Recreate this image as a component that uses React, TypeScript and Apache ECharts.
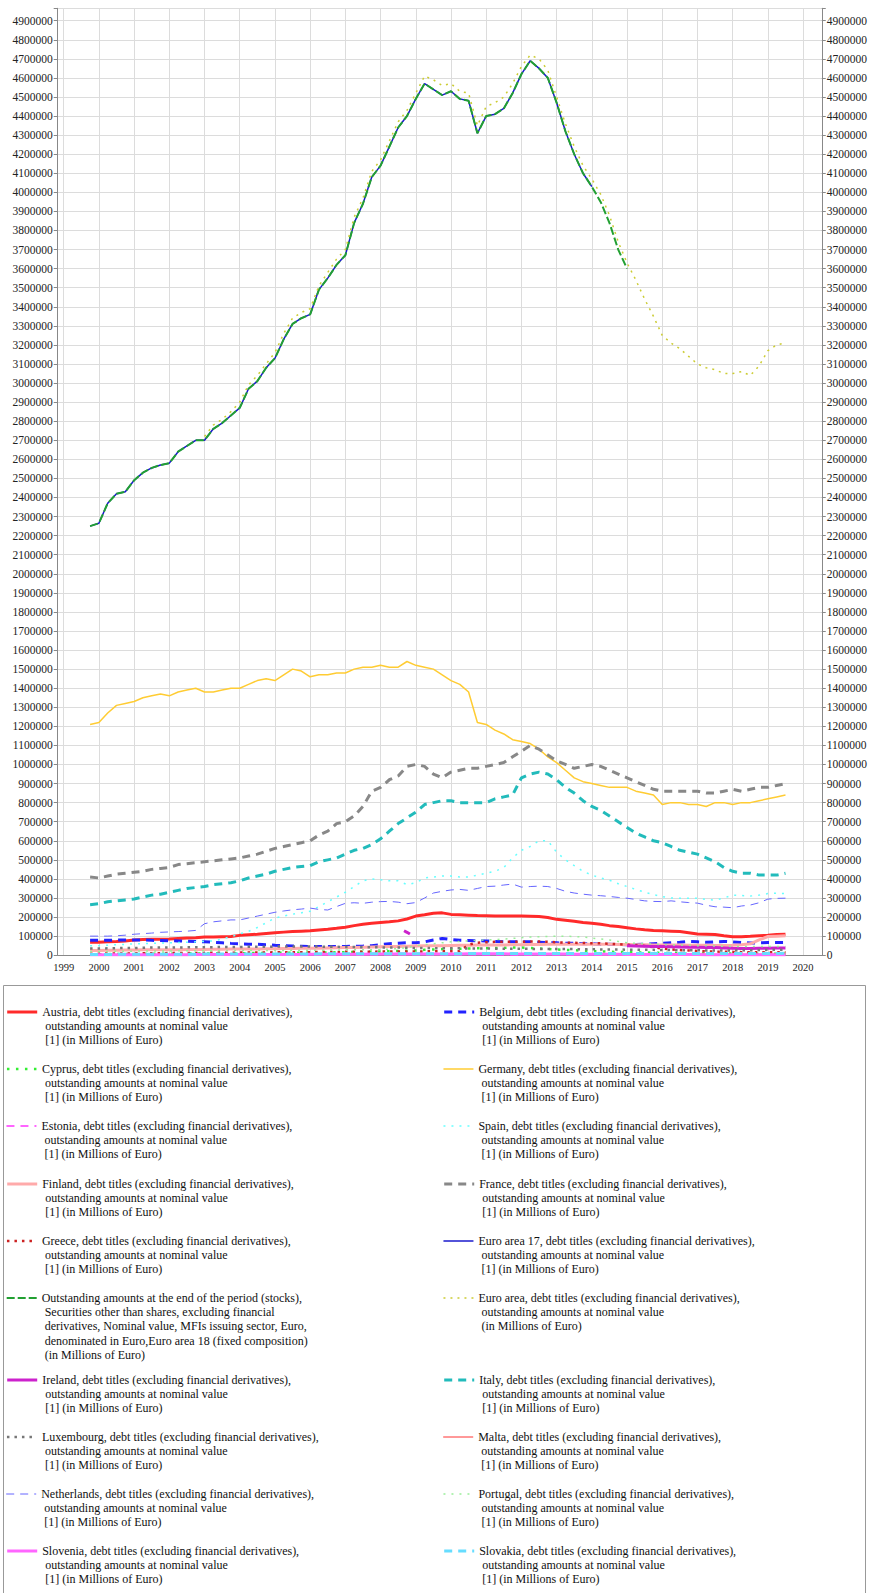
import React, { useEffect, useRef } from "react";
import * as echarts from "echarts";

// Quarterly observation dates (YYYY-MM)
const dates = [
  "1999-10",
  "2000-01", "2000-04", "2000-07", "2000-10",
  "2001-01", "2001-04", "2001-07", "2001-10",
  "2002-01", "2002-04", "2002-07", "2002-10",
  "2003-01", "2003-04", "2003-07", "2003-10",
  "2004-01", "2004-04", "2004-07", "2004-10",
  "2005-01", "2005-04", "2005-07", "2005-10",
  "2006-01", "2006-04", "2006-07", "2006-10",
  "2007-01", "2007-04", "2007-07", "2007-10",
  "2008-01", "2008-04", "2008-07", "2008-10",
  "2009-01", "2009-04", "2009-07", "2009-10",
  "2010-01", "2010-04", "2010-07", "2010-10",
  "2011-01", "2011-04", "2011-07", "2011-10",
  "2012-01", "2012-04", "2012-07", "2012-10",
  "2013-01", "2013-04", "2013-07", "2013-10",
  "2014-01", "2014-04", "2014-07", "2014-10",
  "2015-01", "2015-04", "2015-07", "2015-10",
  "2016-01", "2016-04", "2016-07", "2016-10",
  "2017-01", "2017-04", "2017-07", "2017-10",
  "2018-01", "2018-04", "2018-07", "2018-10",
  "2019-01", "2019-04", "2019-07",
];

const austria = [
  68000, 68000, 70000, 72000, 75000, 80000, 82000, 84000, 84000, 85000, 88000, 90000, 92000,
  95000, 96000, 97000, 98000, 104000, 107000, 110000, 114000, 118000, 121000, 124000, 126000,
  128000, 132000, 136000, 141000, 147000, 155000, 162000, 168000, 172000, 175000, 180000, 190000,
  205000, 212000, 220000, 222000, 214000, 212000, 210000, 208000, 207000, 206000, 206000, 205000,
  205000, 204000, 203000, 198000, 188000, 183000, 178000, 172000, 167000, 162000, 155000, 150000,
  144000, 138000, 133000, 130000, 128000, 126000, 124000, 118000, 111000, 110000, 108000, 102000,
  97000, 97000, 99000, 102000, 104000, 108000, 110000,
];

const belgium = [
  78000, 78000, 78000, 79000, 80000, 80000, 80000, 78000, 77000, 76000, 75000, 74000, 72000,
  70000, 68000, 65000, 62000, 60000, 58000, 57000, 55000, 52000, 50000, 48000, 47000,
  46000, 45000, 45000, 45000, 46000, 47000, 48000, 50000, 55000, 60000, 63000, 65000,
  65000, 70000, 80000, 88000, 82000, 78000, 77000, 76000, 75000, 72000, 70000, 70000,
  70000, 70000, 68000, 66000, 65000, 63000, 62000, 60000, 60000, 58000, 57000, 56000,
  55000, 56000, 58000, 60000, 62000, 65000, 68000, 72000, 70000, 68000, 70000, 72000,
  70000, 66000, 64000, 65000, 66000, 66000, 66000,
];

const cyprus = [
  5000, 5000, 5500, 6000, 6000, 6500, 7000, 7000, 7500, 8000, 8000, 8500, 9000,
  9000, 9500, 10000, 10000, 10500, 11000, 11000, 11500, 12000, 12500, 13000, 13000,
  13500, 14000, 14500, 15000, 16000, 17000, 18000, 19000, 20000, 21000, 22000, 23000,
  25000, 28000, 30000, 32000, 33000, 34000, 35000, 36000, 37000, 38000, 39000, 40000,
  40000, 38000, 35000, 33000, 30000, 28000, 26000, 24000, 22000, 20000, 18000, 17000,
  16000, 15000, 14000, 13000, 12000, 11000, 10000, 10000, 9500, 9000, 9000, 8500,
  8500, 8000, 8000, 7500, 7500, 7000, 7000,
];

const germany = [
  1210000, 1220000, 1270000, 1310000, 1320000, 1330000, 1350000, 1360000, 1370000, 1360000, 1380000, 1390000, 1400000,
  1380000, 1380000, 1390000, 1400000, 1400000, 1420000, 1440000, 1450000, 1440000, 1470000, 1500000, 1490000,
  1460000, 1470000, 1470000, 1480000, 1480000, 1500000, 1510000, 1510000, 1520000, 1510000, 1510000, 1540000,
  1520000, 1510000, 1500000, 1470000, 1440000, 1420000, 1380000, 1220000, 1210000, 1180000, 1160000, 1130000,
  1120000, 1110000, 1080000, 1040000, 1010000, 970000, 930000, 910000, 900000, 890000, 880000, 880000,
  880000, 860000, 850000, 840000, 790000, 800000, 800000, 790000, 790000, 780000, 800000, 800000,
  790000, 800000, 800000, 810000, 820000, 830000, 840000,
];

const estonia = [
  800, 800, 800, 900, 900, 900, 1000, 1000, 1000, 1100, 1100, 1100, 1200,
  1200, 1200, 1300, 1300, 1300, 1400, 1400, 1400, 1500, 1500, 1500, 1600,
  1600, 1700, 1700, 1800, 1800, 1900, 1900, 2000, 2000, 2000, 2100, 2100,
  2100, 2000, 2000, 1900, 1900, 1800, 1800, 1700, 1700, 1600, 1600, 1500,
  1500, 1400, 1400, 1300, 1300, 1200, 1200, 1100, 1100, 1000, 1000, 900,
  900, 900, 800, 800, 800, 700, 700, 700, 600, 600, 600, 600,
  500, 500, 500, 500, 500, 500, 500,
];

const spain = [
  50000, 50000, 52000, 55000, 57000, 60000, 60000, 62000, 63000, 65000, 67000, 68000, 70000,
  72000, 75000, 85000, 97000, 112000, 125000, 145000, 170000, 195000, 205000, 215000, 222000,
  230000, 255000, 280000, 305000, 330000, 360000, 390000, 400000, 395000, 390000, 390000, 370000,
  380000, 405000, 410000, 415000, 415000, 410000, 410000, 420000, 430000, 440000, 460000, 510000,
  550000, 570000, 600000, 600000, 540000, 500000, 470000, 440000, 420000, 405000, 393000, 375000,
  360000, 345000, 330000, 318000, 307000, 300000, 298000, 298000, 298000, 292000, 289000, 300000,
  315000, 313000, 310000, 315000, 323000, 325000, 323000,
];

const finland = [
  25000, 25000, 26000, 26000, 27000, 27000, 28000, 28000, 28000, 29000, 29000, 30000, 30000,
  30000, 31000, 31000, 32000, 32000, 33000, 33000, 34000, 34000, 35000, 35000, 36000,
  36000, 37000, 38000, 39000, 40000, 41000, 42000, 43000, 44000, 45000, 46000, 47000,
  48000, 49000, 50000, 50000, 51000, 52000, 52000, 53000, 53000, 54000, 54000, 55000,
  55000, 56000, 56000, 57000, 57000, 58000, 58000, 58000, 58000, 57000, 57000, 56000,
  56000, 55000, 55000, 54000, 54000, 53000, 53000, 52000, 52000, 52000, 51000, 51000,
  52000, 55000, 60000, 80000, 98000, 100000, 102000,
];

const france = [
  410000, 405000, 415000, 425000, 430000, 435000, 440000, 450000, 455000, 460000, 475000, 480000, 485000,
  490000, 495000, 500000, 505000, 510000, 520000, 530000, 545000, 560000, 570000, 580000, 590000,
  600000, 630000, 650000, 690000, 700000, 730000, 780000, 860000, 880000, 920000, 940000, 990000,
  1000000, 990000, 950000, 930000, 960000, 970000, 980000, 980000, 990000, 1000000, 1010000, 1040000,
  1070000, 1100000, 1080000, 1050000, 1020000, 1000000, 980000, 990000, 1000000, 990000, 970000, 950000,
  930000, 910000, 890000, 870000, 860000, 860000, 860000, 860000, 860000, 850000, 850000, 860000,
  870000, 860000, 870000, 880000, 880000, 890000, 900000,
];

const greece = [
  8000, 8000, 8500, 9000, 9000, 9500, 10000, 10000, 10500, 11000, 11000, 11500, 12000,
  12000, 12500, 13000, 13000, 13500, 14000, 14000, 14500, 15000, 15000, 15500, 16000,
  16000, 16500, 17000, 17000, 17500, 18000, 18000, 18500, 19000, 19000, 19500, 20000,
  20000, 20000, 20500, 21000, 21000, 21000, 55000, 65000, 68000, 70000, 70000, 70000,
  70000, 72000, 72000, 70000, 68000, 66000, 65000, 64000, 63000, 62000, 60000, 58000,
  55000, 52000, 48000, 42000, 35000, 30000, 27000, 25000, 22000, 20000, 19000, 18000,
  17000, 16000, 16000, 15000, 15000, 15000, 15000,
];

const euroArea17 = [
  2250000, 2265000, 2370000, 2420000, 2430000, 2490000, 2530000, 2555000, 2570000, 2580000, 2640000, 2670000, 2700000,
  2700000, 2760000, 2790000, 2830000, 2870000, 2970000, 3010000, 3080000, 3130000, 3230000, 3310000, 3340000,
  3360000, 3490000, 3550000, 3620000, 3670000, 3840000, 3940000, 4080000, 4140000, 4240000, 4340000, 4400000,
  4490000, 4570000, 4540000, 4510000, 4530000, 4490000, 4480000, 4310000, 4400000, 4410000, 4440000, 4520000,
  4620000, 4690000, 4650000, 4600000, 4470000, 4320000, 4200000, 4100000, 4030000, null, null, null,
  null, null, null, null, null, null, null, null, null, null, null, null,
  null, null, null, null, null, null, null,
];

const euroArea18 = [
  2250000, 2265000, 2370000, 2420000, 2430000, 2490000, 2530000, 2555000, 2570000, 2580000, 2640000, 2670000, 2700000,
  2700000, 2760000, 2790000, 2830000, 2870000, 2970000, 3010000, 3080000, 3130000, 3230000, 3310000, 3340000,
  3360000, 3490000, 3550000, 3620000, 3670000, 3840000, 3940000, 4080000, 4140000, 4240000, 4340000, 4400000,
  4490000, 4570000, 4540000, 4510000, 4530000, 4490000, 4480000, 4310000, 4400000, 4410000, 4440000, 4520000,
  4620000, 4690000, 4650000, 4600000, 4470000, 4320000, 4200000, 4100000, 4030000, 3950000, 3840000, 3700000,
  3600000, null, null, null, null, null, null, null, null, null, null, null,
  null, null, null, null, null, null, null,
];

const euroArea = [
  null, null, null, null, null, null, null, null, null, null, null, null, null,
  2720000, 2780000, 2810000, 2850000, 2900000, 2990000, 3040000, 3100000, 3160000, 3260000, 3340000, 3370000,
  3390000, 3510000, 3580000, 3650000, 3700000, 3870000, 3970000, 4110000, 4170000, 4270000, 4370000, 4430000,
  4520000, 4610000, 4590000, 4560000, 4570000, 4530000, 4520000, 4350000, 4450000, 4470000, 4500000, 4570000,
  4660000, 4720000, 4700000, 4640000, 4500000, 4360000, 4240000, 4140000, 4070000, 3990000, 3880000, 3740000,
  3630000, 3540000, 3440000, 3350000, 3250000, 3210000, 3180000, 3140000, 3100000, 3080000, 3070000, 3050000,
  3050000, 3060000, 3040000, 3090000, 3170000, 3200000, 3210000,
];

// Ireland is only reported for a few months in 2008 and from 2015
const irelandDates = [
  "2008-09", "2008-10", "2008-11", "2009-01",
  "2015-01", "2015-04", "2015-07", "2015-10",
  "2016-01", "2016-04", "2016-07", "2016-10",
  "2017-01", "2017-04", "2017-07", "2017-10",
  "2018-01", "2018-04", "2018-07", "2018-10",
  "2019-01", "2019-04", "2019-07",
];
const ireland = [
  128000, 120000, 111000, null,
  50000, 48000, 47000, 46000,
  45000, 44000, 43000, 42000,
  42000, 41000, 40000, 38000,
  36000, 35000, 35000, 36000,
  37000, 38000, 38000,
];

const italy = [
  265000, 270000, 280000, 285000, 290000, 295000, 305000, 315000, 320000, 330000, 340000, 350000, 355000,
  360000, 370000, 375000, 380000, 390000, 405000, 415000, 425000, 440000, 450000, 460000, 465000,
  470000, 490000, 500000, 510000, 530000, 550000, 560000, 580000, 610000, 650000, 690000, 720000,
  750000, 790000, 800000, 810000, 810000, 800000, 800000, 800000, 800000, 820000, 830000, 840000,
  930000, 950000, 960000, 950000, 920000, 880000, 850000, 810000, 780000, 760000, 730000, 700000,
  670000, 640000, 620000, 600000, 590000, 570000, 550000, 540000, 530000, 510000, 490000, 460000,
  440000, 430000, 430000, 420000, 420000, 420000, 430000,
];

const luxembourg = [
  35000, 35000, 36000, 37000, 38000, 38000, 39000, 40000, 40000, 40000, 41000, 41000, 42000,
  42000, 42000, 43000, 43000, 43000, 44000, 44000, 44000, 45000, 45000, 45000, 45000,
  45000, 45000, 44000, 44000, 43000, 43000, 42000, 42000, 41000, 40000, 40000, 39000,
  38000, 38000, 37000, 37000, 36000, 36000, 35000, 35000, 35000, 34000, 34000, 34000,
  34000, 33000, 33000, 33000, 32000, 32000, 32000, 31000, 31000, 30000, 30000, 30000,
  29000, 29000, 28000, 28000, 27000, 27000, 26000, 26000, 26000, 25000, 25000, 25000,
  25000, 26000, 26000, 27000, 28000, 28000, 29000,
];

const malta = [
  1000, 1000, 1000, 1100, 1100, 1200, 1200, 1300, 1300, 1400, 1400, 1500, 1500,
  1600, 1600, 1700, 1700, 1800, 1800, 1900, 1900, 2000, 2000, 2100, 2100,
  2200, 2200, 2300, 2400, 2500, 2600, 2700, 2800, 2900, 3000, 3100, 3200,
  3300, 3300, 3400, 3400, 3500, 3500, 3600, 3600, 3700, 3700, 3800, 3800,
  3900, 3900, 4000, 4000, 4000, 4100, 4100, 4100, 4200, 4200, 4200, 4300,
  4300, 4300, 4400, 4400, 4400, 4500, 4500, 4500, 4600, 4600, 4600, 4700,
  4700, 4700, 4800, 4800, 4800, 4900, 4900,
];

const netherlands = [
  100000, 100000, 100000, 102000, 105000, 110000, 113000, 116000, 120000, 122000, 124000, 126000, 130000,
  165000, 175000, 180000, 185000, 185000, 195000, 205000, 215000, 225000, 232000, 238000, 242000,
  247000, 240000, 237000, 255000, 272000, 275000, 272000, 278000, 281000, 282000, 278000, 270000,
  276000, 300000, 326000, 335000, 342000, 345000, 340000, 350000, 360000, 362000, 368000, 373000,
  357000, 360000, 362000, 360000, 350000, 335000, 326000, 320000, 315000, 312000, 308000, 303000,
  299000, 292000, 285000, 282000, 281000, 285000, 280000, 276000, 273000, 262000, 254000, 252000,
  249000, 258000, 263000, 275000, 294000, 298000, 299000,
];

const portugal = [
  20000, 20000, 20000, 21000, 21000, 21000, 22000, 22000, 22000, 22000, 23000, 23000, 23000,
  23000, 23000, 24000, 24000, 24000, 24000, 25000, 25000, 25000, 25000, 26000, 26000,
  26000, 26000, 27000, 27000, 28000, 28000, 29000, 29000, 30000, 32000, 35000, 40000,
  50000, 55000, 60000, 65000, 70000, 72000, 75000, 78000, 80000, 82000, 85000, 88000,
  92000, 95000, 97000, 98000, 100000, 100000, 98000, 95000, 90000, 85000, 80000, 72000,
  65000, 62000, 60000, 58000, 55000, 54000, 53000, 52000, 50000, 49000, 48000, 47000,
  46000, 45000, 45000, 45000, 45000, 45000, 45000,
];

const slovenia = [
  2000, 2000, 2100, 2200, 2300, 2400, 2500, 2600, 2700, 2800, 2900, 3000, 3100,
  3200, 3300, 3400, 3500, 3600, 3700, 3800, 3900, 4000, 4100, 4200, 4300,
  4500, 4700, 4900, 5000, 5200, 5400, 5500, 5700, 5900, 6000, 6200, 6300,
  6500, 6600, 6700, 6800, 6800, 6900, 7000, 7000, 7100, 7100, 7000, 6900,
  6800, 6600, 6400, 6200, 6000, 5800, 5500, 5200, 5000, 4800, 4600, 4400,
  4200, 4000, 3800, 3600, 3500, 3400, 3300, 3200, 3100, 3000, 2900, 2800,
  2700, 2600, 2600, 2500, 2500, 2400, 2400,
];

const slovakia = [
  4000, 4000, 4200, 4300, 4500, 4600, 4800, 5000, 5100, 5300, 5400, 5500, 5600,
  5700, 5800, 5900, 6000, 6100, 6200, 6300, 6400, 6500, 6600, 6700, 6800,
  6900, 7000, 7100, 7200, 7300, 7400, 7500, 7600, 7700, 7800, 7900, 8000,
  8000, 8000, 8100, 8100, 8200, 8200, 8300, 8300, 8400, 8400, 8500, 8500,
  8500, 8600, 8600, 8600, 8700, 8700, 8700, 8800, 8800, 8800, 8900, 8900,
  9000, 9000, 9000, 9100, 9100, 9100, 9200, 9200, 9200, 9300, 9300, 9300,
  9400, 9400, 9400, 9500, 9500, 9500, 9600,
];

const debtLabel = (country: string) =>
  `${country}, debt titles (excluding financial derivatives),\n outstanding amounts at nominal value\n [1] (in Millions of Euro)`;

const labels: Record<string, string> = {
  Austria: debtLabel("Austria"),
  Belgium: debtLabel("Belgium"),
  Cyprus: debtLabel("Cyprus"),
  Germany: debtLabel("Germany"),
  Estonia: debtLabel("Estonia"),
  Spain: debtLabel("Spain"),
  Finland: debtLabel("Finland"),
  France: debtLabel("France"),
  Greece: debtLabel("Greece"),
  "Euro area 17": debtLabel("Euro area 17"),
  "Euro area 18":
    "Outstanding amounts at the end of the period (stocks),\n Securities other than shares, excluding financial\n derivatives, Nominal value, MFIs issuing sector, Euro,\n denominated in Euro,Euro area 18 (fixed composition)\n (in Millions of Euro)",
  "Euro area":
    "Euro area, debt titles (excluding financial derivatives),\n outstanding amounts at nominal value\n (in Millions of Euro)",
  Ireland: debtLabel("Ireland"),
  Italy: debtLabel("Italy"),
  Luxembourg: debtLabel("Luxembourg"),
  Malta: debtLabel("Malta"),
  Netherlands: debtLabel("Netherlands"),
  Portugal: debtLabel("Portugal"),
  Slovenia: debtLabel("Slovenia"),
  Slovakia: debtLabel("Slovakia"),
};

const leftColumn = ["Austria", "Cyprus", "Estonia", "Finland", "Greece", "Euro area 18", "Ireland", "Luxembourg", "Netherlands", "Slovenia"];
const rightColumn = ["Belgium", "Germany", "Spain", "France", "Euro area 17", "Euro area", "Italy", "Malta", "Portugal", "Slovakia"];

const toYear = (d: string) => {
  const [y, m] = d.split("-").map(Number);
  return y + (m - 1) / 12;
};

const pair = (ds: string[], vs: (number | null)[]) =>
  ds.map((d, i) => [toYear(d), vs[i] == null ? "-" : vs[i]]);

const seriesDefs = [
  { name: "Austria", dates, values: austria, color: "#ff2a2a", width: 3, dash: "solid" as any },
  { name: "Belgium", dates, values: belgium, color: "#2222ff", width: 3, dash: [8, 6] },
  { name: "Cyprus", dates, values: cyprus, color: "#33ee33", width: 2.5, dash: [2.5, 6.5] },
  { name: "Germany", dates, values: germany, color: "#ffcc33", width: 1.5, dash: "solid" as any },
  { name: "Estonia", dates, values: estonia, color: "#ff33ff", width: 1.5, dash: [8, 6] },
  { name: "Spain", dates, values: spain, color: "#66ffff", width: 1.5, dash: [2, 6] },
  { name: "Finland", dates, values: finland, color: "#ffaaaa", width: 3, dash: "solid" as any },
  { name: "France", dates, values: france, color: "#888888", width: 3, dash: [8, 6] },
  { name: "Greece", dates, values: greece, color: "#cc2222", width: 2.5, dash: [2.5, 5] },
  { name: "Euro area 17", dates, values: euroArea17, color: "#1a1acc", width: 1.5, dash: "solid" as any },
  { name: "Euro area 18", dates, values: euroArea18, color: "#22a032", width: 2, dash: [8, 3] },
  { name: "Euro area", dates, values: euroArea, color: "#cccc33", width: 1.5, dash: [2, 5] },
  { name: "Ireland", dates: irelandDates, values: ireland, color: "#cc22cc", width: 3, dash: "solid" as any },
  { name: "Italy", dates, values: italy, color: "#22bbbb", width: 3, dash: [8, 6] },
  { name: "Luxembourg", dates, values: luxembourg, color: "#777777", width: 2.5, dash: [2.5, 5] },
  { name: "Malta", dates, values: malta, color: "#ff3333", width: 1, dash: "solid" as any },
  { name: "Netherlands", dates, values: netherlands, color: "#6666ff", width: 1, dash: [8, 6] },
  { name: "Portugal", dates, values: portugal, color: "#99ee99", width: 1.5, dash: [2, 6] },
  { name: "Slovenia", dates, values: slovenia, color: "#ff66ff", width: 3, dash: "solid" as any },
  { name: "Slovakia", dates, values: slovakia, color: "#66ddff", width: 3, dash: [8, 6] },
];

const FONT = "'Liberation Serif', 'Times New Roman', serif";
const LINE_H = 14.2;
const rowCenters = [1012, 1069, 1126, 1184, 1241, 1298, 1380, 1437, 1494, 1551];

function buildLegends() {
  const out: any[] = [];
  const mk = (name: string, left: number, center: number) => {
    const n = labels[name].split("\n").length;
    // blank lines above the label keep the legend's line icon level with the first text line
    const text = "\n".repeat(n - 1) + labels[name];
    return {
      data: [name],
      left,
      top: center - ((2 * n - 1) * LINE_H) / 2,
      padding: 0,
      orient: "vertical",
      itemWidth: 30,
      itemHeight: 8,
      itemGap: 0,
      selectedMode: false,
      formatter: () => text,
      lineStyle: { width: "inherit" },
      itemStyle: { opacity: 0 },
      textStyle: {
        fontFamily: FONT,
        fontSize: 12,
        lineHeight: LINE_H,
        color: "#111",
      },
    };
  };
  leftColumn.forEach((nm, i) => out.push(mk(nm, 5.7, rowCenters[i])));
  rightColumn.forEach((nm, i) => out.push(mk(nm, 442.7, rowCenters[i])));
  return out;
}

const yAxisCommon = {
  type: "value",
  min: 0,
  max: 4965000,
  interval: 100000,
  axisLine: { show: true, lineStyle: { color: "#888", width: 1 } },
  axisTick: { show: true, length: 4, lineStyle: { color: "#888" } },
  splitLine: { show: true, lineStyle: { color: "#dcdcdc", width: 1 } },
  axisLabel: {
    fontFamily: FONT,
    fontSize: 11.5,
    color: "#222",
    margin: 5,
    formatter: (v: number) => (v % 100000 === 0 ? String(v) : ""),
  },
};

export default function App() {
  const ref = useRef<HTMLDivElement>(null);
  useEffect(() => {
    if (!ref.current) return;
    const chart = echarts.init(ref.current, null, { renderer: "svg" });
    const option: any = {
      animation: false,
      backgroundColor: "#fff",
      grid: { left: 57.7, right: 43.3, top: 8.3, bottom: 637.8, containLabel: false },
      xAxis: {
        type: "value",
        min: 1998.83,
        max: 2020.53,
        splitNumber: 22,
        minInterval: 1,
        maxInterval: 1,
        axisLine: { show: true, onZero: false, lineStyle: { color: "#888", width: 1 } },
        axisTick: { show: false },
        splitLine: { show: true, lineStyle: { color: "#dcdcdc", width: 1 } },
        axisLabel: {
          fontFamily: FONT,
          fontSize: 10.5,
          color: "#222",
          margin: 7,
          formatter: (v: number) =>
            Math.abs(v - Math.round(v)) < 1e-6 ? String(Math.round(v)) : "",
        },
      },
      yAxis: [
        { ...yAxisCommon, position: "left" },
        { ...yAxisCommon, position: "right", splitLine: { show: false } },
      ],
      legend: buildLegends(),
      graphic: [
        {
          type: "rect",
          silent: true,
          shape: { x: 3.5, y: 985.5, width: 862, height: 640 },
          style: { fill: "none", stroke: "#999", lineWidth: 1 },
        },
      ],
      series: seriesDefs.map((s) => ({
        name: s.name,
        type: "line",
        yAxisIndex: 0,
        symbol: "none",
        showSymbol: false,
        connectNulls: false,
        data: pair(s.dates, s.values),
        lineStyle: { color: s.color, width: s.width, type: s.dash },
        itemStyle: { color: s.color },
        emphasis: { disabled: true },
      })),
    };
    chart.setOption(option);
    return () => chart.dispose();
  }, []);
  return (
    <div
      ref={ref}
      style={{ position: "absolute", left: 0, top: 0, width: 870, height: 1593 }}
    />
  );
}
